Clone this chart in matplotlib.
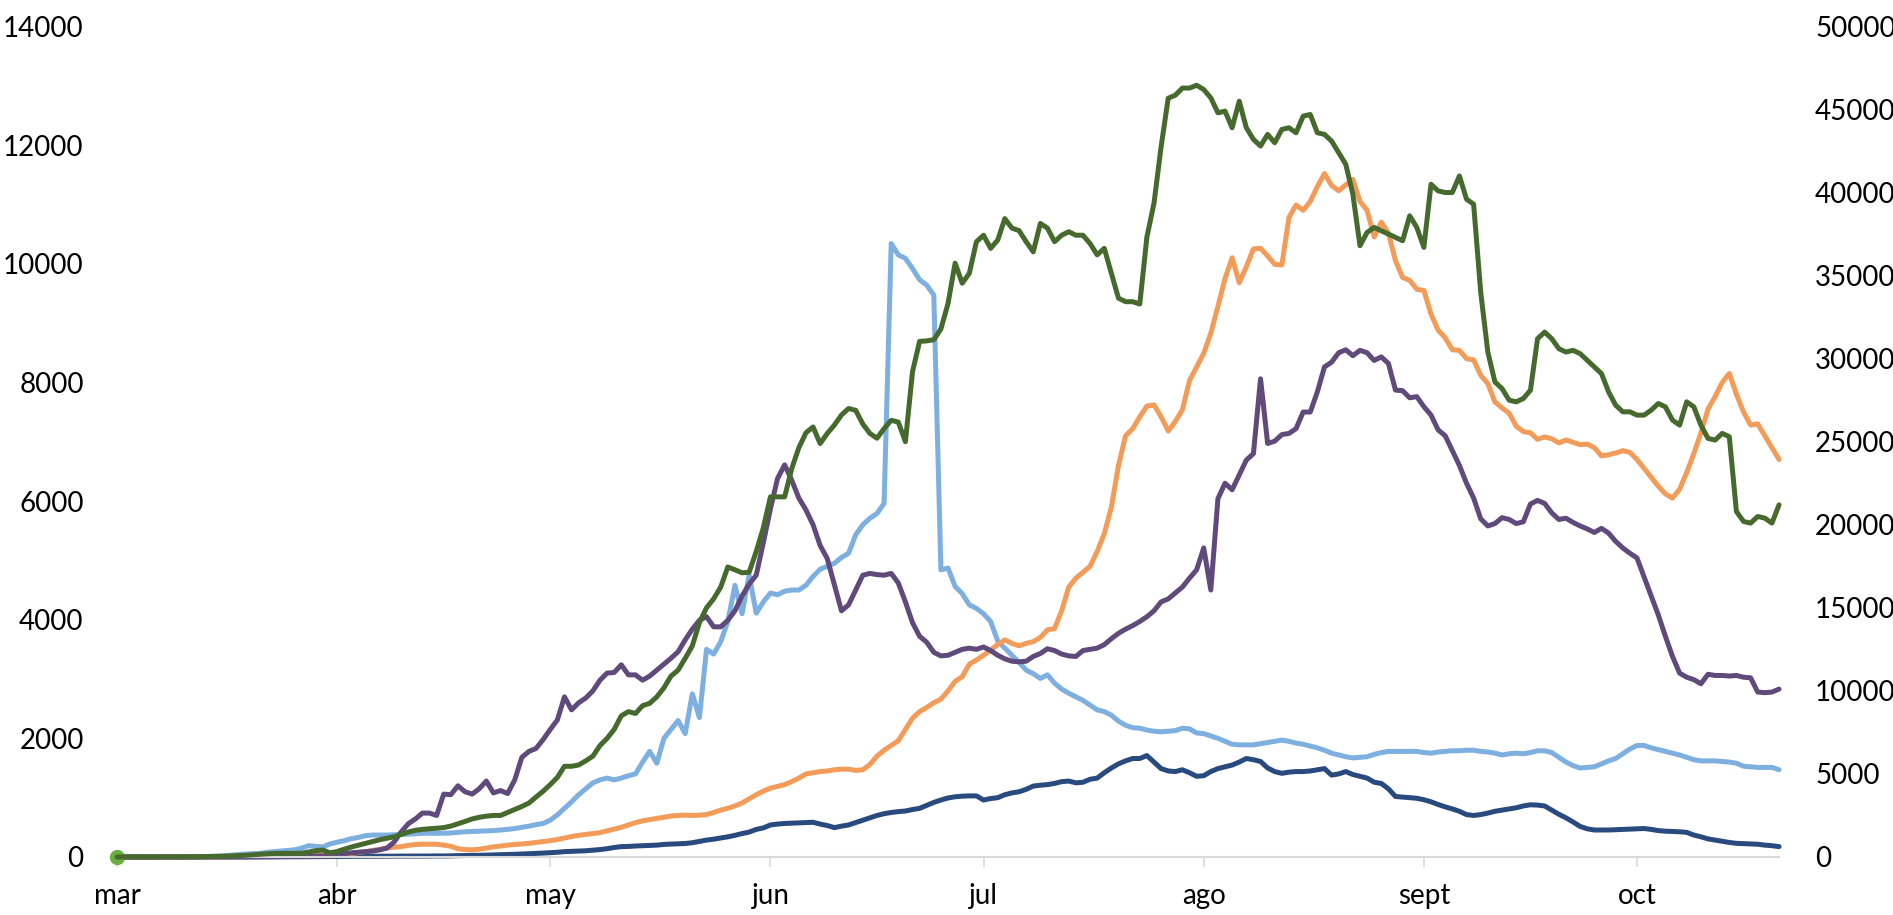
import matplotlib
matplotlib.use("Agg")
import matplotlib.pyplot as plt
import pandas as pd

plt.rcParams['font.family'] = ['Lato', 'DejaVu Sans']

start_date = '2020-03-01'
n_days = 235
month_labels = ['mar', 'abr', 'may', 'jun', 'jul', 'ago', 'sept', 'oct']

# light blue series (left axis)
chile = [
    0, 0, 0, 0, 0, 0, 0, 0, 0, 0,
    0, 0, 5, 10, 15, 20, 30, 40, 50, 55,
    60, 75, 90, 100, 110, 120, 150, 190, 180, 170,
    220, 250, 275, 310, 330, 360, 370, 370, 370, 375,
    380, 385, 390, 400, 400, 400, 400, 405, 415, 425,
    430, 435, 440, 445, 455, 465, 480, 500, 520, 545,
    565, 620, 710, 820, 930, 1050, 1150, 1250, 1300, 1330,
    1300, 1330, 1370, 1400, 1600, 1780, 1580, 2000, 2150, 2300,
    2080, 2750, 2350, 3500, 3420, 3630, 3970, 4580, 4100, 4750,
    4110, 4300, 4450, 4420, 4480, 4500, 4500, 4580, 4730, 4850,
    4900, 4950, 5050, 5120, 5430, 5600, 5710, 5790, 5960, 10340,
    10150, 10090, 9920, 9730, 9640, 9470, 4840, 4870, 4560, 4440,
    4250, 4190, 4100, 3970, 3640, 3520, 3400, 3280, 3150, 3090,
    3010, 3070, 2930, 2830, 2760, 2700, 2640, 2560, 2480, 2450,
    2390, 2290, 2220, 2180, 2170, 2140, 2120, 2110, 2120, 2130,
    2170, 2160, 2090, 2080, 2040, 2000, 1950, 1900, 1890, 1890,
    1890, 1910, 1930, 1950, 1970, 1950, 1920, 1900, 1870, 1840,
    1800, 1750, 1720, 1690, 1670, 1680, 1690, 1730, 1760, 1780,
    1780, 1780, 1780, 1780, 1760, 1750, 1770, 1780, 1790, 1790,
    1800, 1800, 1780, 1770, 1750, 1720, 1740, 1750, 1740, 1760,
    1790, 1790, 1760, 1680, 1600, 1540, 1500, 1510, 1520, 1570,
    1620, 1660, 1740, 1820, 1880, 1880, 1840, 1810, 1780, 1750,
    1720, 1680, 1640, 1620, 1620, 1620, 1610, 1600, 1580, 1530,
    1520, 1510, 1510, 1510, 1470,
]

# dark navy series (left axis)
bolivia = [
    0, 0, 0, 0, 0, 0, 0, 0, 0, 0,
    0, 0, 0, 0, 0, 0, 0, 0, 0, 0,
    1, 1, 2, 2, 3, 3, 4, 5, 6, 7,
    8, 9, 10, 10, 11, 12, 12, 13, 14, 14,
    15, 15, 16, 15, 16, 18, 17, 20, 22, 25,
    26, 28, 32, 35, 38, 42, 45, 50, 55, 60,
    66, 72, 80, 90, 95, 100, 105, 115, 125, 140,
    160, 175, 178, 185, 190, 195, 200, 212, 218, 222,
    228, 240, 262, 285, 300, 320, 340, 365, 395, 420,
    465, 490, 540, 555, 565, 570, 575, 580, 585, 555,
    530, 495, 520, 540, 580, 620, 660, 700, 730, 750,
    765, 775, 800, 820, 870, 920, 960, 995, 1015, 1025,
    1030, 1030, 960, 985, 1000, 1050, 1080, 1100, 1140, 1195,
    1210, 1220, 1240, 1270, 1280, 1250, 1260, 1310, 1330, 1420,
    1500, 1570, 1620, 1660, 1660, 1710, 1600, 1490, 1450, 1440,
    1470, 1420, 1360, 1370, 1440, 1490, 1520, 1550, 1600, 1660,
    1640, 1610, 1500, 1440, 1410, 1430, 1440, 1440, 1450, 1470,
    1490, 1380, 1400, 1440, 1390, 1360, 1330, 1260, 1240, 1150,
    1020, 1010, 1000, 990, 965, 930, 885, 845, 810, 770,
    715, 700, 715, 740, 770, 790, 810, 830, 860, 880,
    875, 860, 790, 720, 660, 590, 515, 475, 455, 455,
    455, 460, 465, 470, 475, 480, 465, 445, 435, 430,
    425, 415, 370, 340, 305, 285, 265, 245, 230, 225,
    220, 215, 200, 190, 175,
]

# orange series (left axis)
colombia = [
    0, 0, 0, 0, 0, 0, 0, 1, 1, 1,
    1, 2, 2, 3, 3, 4, 5, 5, 6, 7,
    10, 12, 15, 18, 20, 22, 25, 28, 30, 35,
    40, 45, 50, 60, 75, 90, 110, 130, 150, 165,
    175, 195, 210, 215, 215, 215, 200, 180, 140, 125,
    120, 130, 150, 170, 185, 200, 210, 220, 230, 245,
    260, 275, 295, 320, 345, 365, 380, 395, 410, 440,
    470, 500, 540, 580, 610, 630, 650, 670, 690, 700,
    705, 700, 705, 715, 750, 790, 820, 860, 910, 980,
    1050, 1110, 1160, 1190, 1220, 1270, 1330, 1400, 1420, 1440,
    1450, 1470, 1480, 1480, 1460, 1470, 1560, 1700, 1800, 1880,
    1960, 2150, 2340, 2450, 2520, 2600, 2660, 2800, 2960, 3040,
    3250, 3320, 3400, 3490, 3580, 3660, 3600, 3560, 3600, 3630,
    3700, 3830, 3850, 4150, 4550, 4700, 4800, 4900, 5150, 5450,
    5900, 6600, 7100, 7220, 7420, 7600, 7620, 7420, 7180, 7340,
    7540, 8030, 8260, 8490, 8830, 9280, 9750, 10100, 9680, 9950,
    10250, 10260, 10130, 9990, 9980, 10780, 10990, 10900, 11050, 11300,
    11520, 11320, 11230, 11330, 11420, 11050, 10900, 10450, 10700, 10520,
    10050, 9770, 9720, 9570, 9550, 9150, 8880, 8750, 8550, 8540,
    8400, 8380, 8120, 7980, 7670, 7570, 7480, 7260, 7170, 7150,
    7040, 7080, 7050, 6980, 7030, 6990, 6950, 6960, 6900, 6760,
    6780, 6810, 6850, 6820, 6700, 6550, 6400, 6250, 6120, 6050,
    6200, 6480, 6800, 7150, 7550, 7760, 8000, 8150, 7800, 7500,
    7280, 7300, 7100, 6900, 6700,
]

# purple series (left axis)
peru = [
    0, 0, 0, 0, 0, 0, 0, 0, 0, 0,
    0, 0, 0, 0, 0, 0, 1, 1, 2, 2,
    3, 4, 5, 6, 8, 10, 12, 14, 16, 18,
    20, 40, 55, 70, 80, 90, 100, 120, 150, 250,
    420, 560, 640, 740, 740, 700, 1060, 1050, 1200, 1100,
    1060, 1150, 1280, 1080, 1120, 1070, 1300, 1680, 1780, 1830,
    1980, 2150, 2310, 2700, 2480, 2600, 2680, 2800, 2980, 3100,
    3110, 3240, 3070, 3070, 2980, 3050, 3150, 3250, 3350, 3460,
    3660, 3840, 3990, 4050, 3880, 3880, 3990, 4150, 4400, 4600,
    4750, 5300, 5870, 6380, 6610, 6350, 6050, 5850, 5600, 5250,
    5030, 4590, 4150, 4250, 4500, 4750, 4780, 4760, 4750, 4780,
    4620, 4300, 3950, 3720, 3620, 3450, 3390, 3400, 3450, 3500,
    3520, 3500, 3540, 3480, 3400, 3340, 3300, 3290, 3300, 3380,
    3430, 3510, 3480, 3420, 3390, 3380, 3480, 3500, 3520, 3580,
    3680, 3770, 3840, 3900, 3970, 4050, 4150, 4300, 4350, 4450,
    4550, 4700, 4840, 5210, 4500, 6040, 6300, 6190, 6440, 6690,
    6800, 8060, 6970, 7010, 7120, 7140, 7220, 7500, 7500, 7840,
    8260, 8340, 8500, 8550, 8450, 8540, 8500, 8370, 8430, 8320,
    7870, 7860, 7740, 7760, 7590, 7450, 7200, 7100, 6850, 6600,
    6300, 6050, 5700, 5580, 5620, 5720, 5690, 5620, 5650, 5950,
    6010, 5960, 5800, 5690, 5710, 5640, 5580, 5530, 5470, 5540,
    5460, 5320, 5210, 5120, 5040, 4720, 4400, 4080, 3720, 3380,
    3100, 3030, 2990, 2920, 3080, 3060, 3060, 3050, 3060, 3030,
    3020, 2780, 2770, 2780, 2830,
]

# green series (right axis)
brasil = [
    0, 0, 0, 0, 0, 1, 2, 3, 4, 6,
    8, 12, 18, 25, 35, 45, 60, 80, 100, 130,
    160, 190, 210, 220, 225, 215, 230, 300, 380, 420,
    250, 330, 470, 600, 710, 820, 930, 1040, 1130, 1210,
    1360, 1500, 1610, 1660, 1700, 1730, 1770, 1860, 2000, 2140,
    2290, 2390, 2460, 2500, 2500, 2680, 2860, 3040, 3250, 3610,
    3960, 4360, 4790, 5460, 5460, 5540, 5790, 6070, 6710, 7140,
    7680, 8500, 8750, 8640, 9110, 9250, 9640, 10180, 10890, 11250,
    11960, 12710, 14110, 15000, 15540, 16250, 17460, 17290, 17110, 17140,
    18390, 19820, 21680, 21680, 21680, 23390, 24640, 25540, 25890, 24890,
    25500, 26000, 26610, 27000, 26890, 26070, 25500, 25210, 25790, 26290,
    26180, 25000, 29210, 31040, 31070, 31140, 31790, 33320, 35750, 34540,
    35140, 37040, 37430, 36640, 37140, 38430, 37860, 37710, 37040, 36430,
    38140, 37860, 37040, 37430, 37640, 37430, 37430, 36930, 36250, 36640,
    35140, 33640, 33430, 33430, 33290, 37320, 39360, 42750, 45680, 45860,
    46290, 46290, 46460, 46200, 45700, 44800, 44900, 43900, 45500, 43900,
    43200, 42800, 43500, 43000, 43800, 43900, 43600, 44600, 44700, 43600,
    43500, 43100, 42400, 41700, 39900, 36800, 37600, 37900, 37700, 37500,
    37300, 37100, 38600, 37900, 36700, 40500, 40100, 40000, 40000, 41000,
    39600, 39300, 34000, 30400, 28600, 28200, 27500, 27400, 27600, 28100,
    31200, 31600, 31200, 30600, 30400, 30500, 30300, 29900, 29500, 29100,
    28000, 27200, 26800, 26800, 26600, 26600, 26900, 27300, 27100, 26300,
    26000, 27400, 27100, 26000, 25200, 25100, 25500, 25300, 20800, 20200,
    20100, 20500, 20400, 20100, 21200,
]

left_ticks = list(range(0, 14001, 2000))
right_ticks = list(range(0, 50001, 5000))

dates = pd.date_range(start_date, periods=n_days, freq='D')
month_starts = pd.date_range(start_date, dates[-1], freq='MS')

fig = plt.figure(figsize=(18.93, 9.15), dpi=100)
ax = fig.add_axes([0.0618, 0.0634, 0.878, 0.9077])
ax2 = ax.twinx()

line_kw = dict(lw=3.6, solid_joinstyle='round', solid_capstyle='round', clip_on=False)
ax.plot(dates, chile, color='#7DAFE0', **line_kw)
ax.plot(dates, bolivia, color='#294A7E', **line_kw)
ax.plot(dates, colombia, color='#F39C5A', **line_kw)
ax.plot(dates, peru, color='#604A7B', **line_kw)

ax2.plot(dates[:1], brasil[:1], 'o', color='#6AAF3D', ms=10, clip_on=False, zorder=2)
ax2.plot(dates, brasil, color='#466A2E', zorder=3, **line_kw)

ax.set_xlim(dates[0], dates[-1])
ax.set_ylim(0, 14000)
ax2.set_ylim(0, 50000)
ax.set_yticks(left_ticks)
ax.set_yticklabels([str(v) for v in left_ticks])
ax2.set_yticks(right_ticks)
ax2.set_yticklabels([str(v) for v in right_ticks])
ax.set_xticks(month_starts)
ax.set_xticklabels(month_labels)

for a in (ax, ax2):
    for s in a.spines.values():
        s.set_visible(False)
ax.spines['bottom'].set_visible(True)
ax.spines['bottom'].set_color('#d9d9d9')
ax.spines['bottom'].set_linewidth(1.5)

ax.tick_params(axis='y', length=0, pad=24, labelsize=20, labelcolor='black')
ax2.tick_params(axis='y', length=0, pad=26, labelsize=20, labelcolor='black')
ax.tick_params(axis='x', length=7, width=1.2, color='#d9d9d9', pad=12,
               labelsize=20, labelcolor='black')

fig.savefig('out.png', dpi=100)
